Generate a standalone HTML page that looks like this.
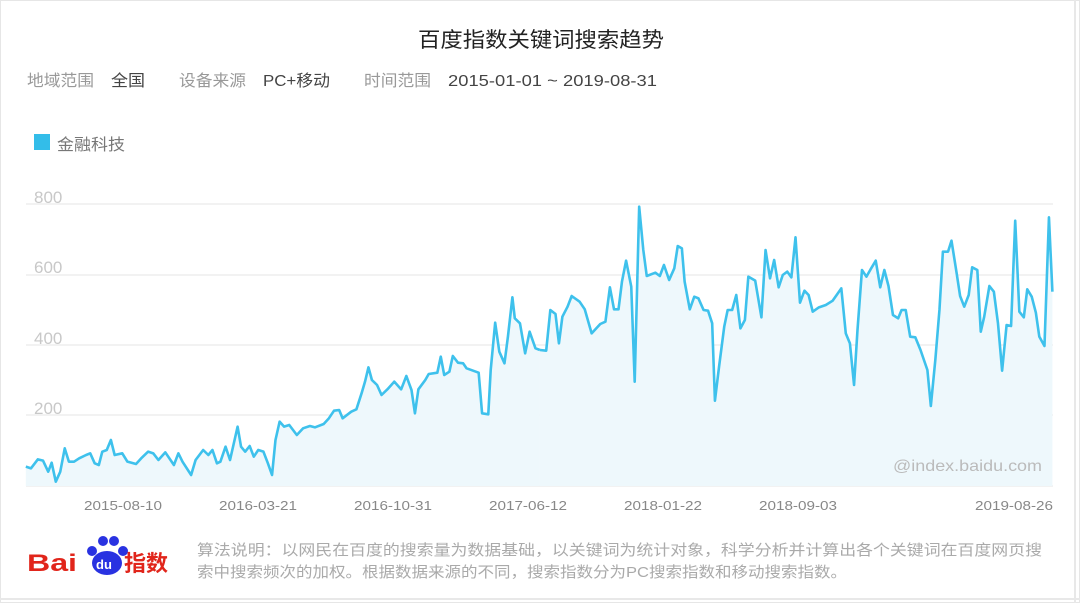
<!DOCTYPE html>
<html><head><meta charset="utf-8"><style>
html,body{margin:0;padding:0;background:#fff;}
svg{display:block;font-family:"Liberation Sans","Noto Sans CJK SC",sans-serif;}
</style></head><body>
<svg width="1080" height="603" viewBox="0 0 1080 603" xmlns="http://www.w3.org/2000/svg">
<rect x="0.5" y="0.5" width="1079" height="602" fill="#fff" stroke="#e6e6e6"/>
<line x1="1075" y1="0" x2="1075" y2="603" stroke="#e8e8e8" stroke-width="2"/>
<line x1="0" y1="599" x2="1080" y2="599" stroke="#e8e8e8" stroke-width="2"/>
<text x="418" y="47" font-size="21" fill="#222" textLength="246" lengthAdjust="spacingAndGlyphs">百度指数关键词搜索趋势</text>
<g font-size="16">
<text x="27" y="86" fill="#999" textLength="67" lengthAdjust="spacingAndGlyphs">地域范围</text>
<text x="111" y="86" fill="#444" textLength="34" lengthAdjust="spacingAndGlyphs">全国</text>
<text x="179" y="86" fill="#999" textLength="67" lengthAdjust="spacingAndGlyphs">设备来源</text>
<text x="263" y="86" fill="#444" textLength="67" lengthAdjust="spacingAndGlyphs">PC+移动</text>
<text x="364" y="86" fill="#999" textLength="67" lengthAdjust="spacingAndGlyphs">时间范围</text>
<text x="448" y="86" fill="#444" textLength="209" lengthAdjust="spacingAndGlyphs">2015-01-01 ~ 2019-08-31</text>
</g>
<rect x="34" y="134" width="16" height="16" fill="#33bde9"/>
<text x="57" y="150" font-size="16" fill="#777" textLength="68" lengthAdjust="spacingAndGlyphs">金融科技</text>
<g stroke="#eeeeee" stroke-width="1.5">
<line x1="26" y1="204" x2="1053" y2="204"/>
<line x1="26" y1="275" x2="1053" y2="275"/>
<line x1="26" y1="345" x2="1053" y2="345"/>
<line x1="26" y1="415" x2="1053" y2="415"/>
<line x1="26" y1="486" x2="1053" y2="486"/>
</g>
<g font-size="17" fill="#c8c8c8">
<text x="34" y="203">800</text><text x="34" y="273">600</text><text x="34" y="344">400</text><text x="34" y="414">200</text>
</g>
<g transform="translate(0,180) scale(0.34435,0.33333)">
<polygon fill="#eef8fc" points="75,918 75,860 90,865 110,838 125,842 140,875 150,848 162,905 175,875 188,805 200,845 215,845 230,835 250,825 262,820 275,850 287,855 297,815 310,810 322,780 333,825 355,820 370,845 395,852 410,835 430,815 445,820 460,840 480,817 505,855 518,820 530,845 555,885 568,840 590,810 605,825 617,810 630,850 640,845 655,800 668,840 690,740 700,800 712,815 725,798 737,830 750,810 765,815 778,850 790,885 800,780 812,725 825,740 840,735 862,765 880,745 900,738 915,742 940,732 955,715 970,692 985,690 995,715 1020,695 1035,688 1050,640 1060,605 1070,562 1080,600 1095,615 1108,645 1125,628 1145,605 1165,628 1180,588 1195,630 1205,700 1215,628 1235,600 1245,582 1270,578 1280,530 1290,585 1305,575 1315,528 1330,548 1345,550 1355,565 1390,578 1400,700 1418,703 1425,570 1438,428 1450,515 1465,550 1475,470 1488,352 1495,415 1510,430 1525,520 1538,455 1555,505 1568,510 1568,918"/>
<polyline fill="none" stroke="#3ec1ec" stroke-width="2.6" stroke-linejoin="round" vector-effect="non-scaling-stroke" points="75,860 90,865 110,838 125,842 140,875 150,848 162,905 175,875 188,805 200,845 215,845 230,835 250,825 262,820 275,850 287,855 297,815 310,810 322,780 333,825 355,820 370,845 395,852 410,835 430,815 445,820 460,840 480,817 505,855 518,820 530,845 555,885 568,840 590,810 605,825 617,810 630,850 640,845 655,800 668,840 690,740 700,800 712,815 725,798 737,830 750,810 765,815 778,850 790,885 800,780 812,725 825,740 840,735 862,765 880,745 900,738 915,742 940,732 955,715 970,692 985,690 995,715 1020,695 1035,688 1050,640 1060,605 1070,562 1080,600 1095,615 1108,645 1125,628 1145,605 1165,628 1180,588 1195,630 1205,700 1215,628 1235,600 1245,582 1270,578 1280,530 1290,585 1305,575 1315,528 1330,548 1345,550 1355,565 1390,578 1400,700 1418,703 1425,570 1438,428 1450,515 1465,550 1475,470 1488,352 1495,415 1510,430 1525,520 1538,455 1555,505 1568,510"/>
</g>
<g transform="translate(540,180) scale(0.34435,0.33333)">
<polygon fill="#eef8fc" points="0,918 0,510 18,512 30,390 45,402 55,490 65,410 80,380 92,348 115,365 130,388 150,460 175,432 190,425 203,322 215,388 228,388 238,305 250,242 265,320 275,605 288,80 300,210 310,288 335,278 348,288 360,255 375,300 390,265 400,198 412,205 420,305 435,388 448,350 460,355 475,390 488,392 500,430 508,662 520,560 535,440 545,390 558,390 570,345 582,445 595,420 605,290 625,302 643,412 655,210 668,295 680,240 693,322 705,285 718,275 730,292 742,172 755,368 768,332 780,345 792,395 810,382 830,375 850,362 875,325 888,460 900,490 912,615 922,450 935,270 948,290 960,268 975,242 988,322 1000,270 1012,318 1025,405 1040,415 1050,390 1062,390 1075,470 1090,472 1105,510 1125,570 1135,678 1148,540 1160,390 1170,215 1185,215 1195,182 1210,280 1220,348 1232,380 1245,345 1255,262 1270,270 1280,455 1290,410 1305,318 1318,335 1330,430 1342,572 1355,435 1368,438 1380,122 1392,395 1405,412 1415,328 1428,350 1440,398 1450,470 1465,498 1478,112 1488,335 1488,918"/>
<polyline fill="none" stroke="#3ec1ec" stroke-width="2.6" stroke-linejoin="round" vector-effect="non-scaling-stroke" points="0,510 18,512 30,390 45,402 55,490 65,410 80,380 92,348 115,365 130,388 150,460 175,432 190,425 203,322 215,388 228,388 238,305 250,242 265,320 275,605 288,80 300,210 310,288 335,278 348,288 360,255 375,300 390,265 400,198 412,205 420,305 435,388 448,350 460,355 475,390 488,392 500,430 508,662 520,560 535,440 545,390 558,390 570,345 582,445 595,420 605,290 625,302 643,412 655,210 668,295 680,240 693,322 705,285 718,275 730,292 742,172 755,368 768,332 780,345 792,395 810,382 830,375 850,362 875,325 888,460 900,490 912,615 922,450 935,270 948,290 960,268 975,242 988,322 1000,270 1012,318 1025,405 1040,415 1050,390 1062,390 1075,470 1090,472 1105,510 1125,570 1135,678 1148,540 1160,390 1170,215 1185,215 1195,182 1210,280 1220,348 1232,380 1245,345 1255,262 1270,270 1280,455 1290,410 1305,318 1318,335 1330,430 1342,572 1355,435 1368,438 1380,122 1392,395 1405,412 1415,328 1428,350 1440,398 1450,470 1465,498 1478,112 1488,335"/>
</g>
<text x="893" y="471" font-size="16" fill="#bbb" textLength="149" lengthAdjust="spacingAndGlyphs">@index.baidu.com</text>
<g font-size="13" fill="#888">
<text x="84" y="510" textLength="78" lengthAdjust="spacingAndGlyphs">2015-08-10</text>
<text x="219" y="510" textLength="78" lengthAdjust="spacingAndGlyphs">2016-03-21</text>
<text x="354" y="510" textLength="78" lengthAdjust="spacingAndGlyphs">2016-10-31</text>
<text x="489" y="510" textLength="78" lengthAdjust="spacingAndGlyphs">2017-06-12</text>
<text x="624" y="510" textLength="78" lengthAdjust="spacingAndGlyphs">2018-01-22</text>
<text x="759" y="510" textLength="78" lengthAdjust="spacingAndGlyphs">2018-09-03</text>
<text x="975" y="510" textLength="78" lengthAdjust="spacingAndGlyphs">2019-08-26</text>
</g>
<text x="27" y="571" font-size="24" font-weight="bold" fill="#e1251b" textLength="50" lengthAdjust="spacingAndGlyphs">Bai</text>
<circle cx="92" cy="551" r="5" fill="#2932e1"/><circle cx="103" cy="541" r="5" fill="#2932e1"/><circle cx="114" cy="541" r="5" fill="#2932e1"/><circle cx="123" cy="551" r="5" fill="#2932e1"/>
<ellipse cx="107" cy="563" rx="15" ry="12" fill="#2932e1"/>
<text x="96" y="569" font-size="13" font-weight="bold" fill="#fff">du</text>
<text x="124" y="571" font-size="22" font-weight="bold" fill="#e1251b" textLength="44" lengthAdjust="spacingAndGlyphs">指数</text>
<g font-size="15" fill="#aaa">
<text x="197" y="555" textLength="845" lengthAdjust="spacingAndGlyphs">算法说明：以网民在百度的搜索量为数据基础，以关键词为统计对象，科学分析并计算出各个关键词在百度网页搜</text>
<text x="197" y="577" textLength="650" lengthAdjust="spacingAndGlyphs">索中搜索频次的加权。根据数据来源的不同，搜索指数分为PC搜索指数和移动搜索指数。</text>
</g>
</svg>
</body></html>
